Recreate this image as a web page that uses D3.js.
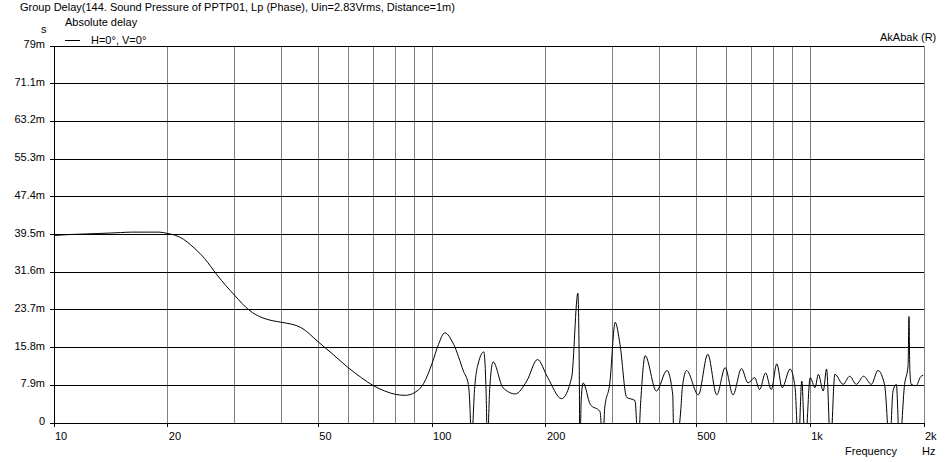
<!DOCTYPE html>
<html><head><meta charset="utf-8">
<script src="https://cdn.jsdelivr.net/npm/d3@7"></script>
<style>
body{margin:0;background:#fff}
text{font-family:"Liberation Sans",Arial,sans-serif;font-size:11px;fill:#000}
</style></head><body>
<svg id="c" width="949" height="462"></svg>
<script>
// group delay in ms
const freq = [10,11,12,13,14,15,16,17,18,19,20,21,22,23,25,27,30,33,35,38,40,45,50,55,60,65,70,75,80,85,90,95,100,104,108,114,121,124.7,126,127,129.5,133,137,139,140,142,145,154,166,178,190,202,220,234,243,245,246,248,251,262,278,283,286,295,305,314,327,344,351,356,366,392,418,433,436,437,440,455,459,471,506,536,566,596,625,658,685,713,735,762,789,816,843,885,912,931,950,970,1000,1030,1051,1083,1105,1132,1162,1222,1272,1324,1384,1451,1511,1574,1623,1656,1690,1723,1777,1815,1825,1835,1850,1905,1960,1990];
const delay = [39.3,39.5,39.6,39.7,39.8,39.9,40,40,40,40,39.7,39.3,38.5,37.3,34.5,31,26.8,23.5,22.3,21.4,21.1,20,17,14.2,11.6,9.5,7.8,6.7,6,5.8,6.4,8.3,12.5,16.5,18.9,16.5,10.9,8.1,3,-5,7,13,14.9,6,-5,7,12.8,7.4,6.1,8.8,13.3,9.6,5.1,9.6,27.2,12,-5,5,8.4,3.9,2.4,-5,3,8.2,21.1,16.5,5.4,4.7,-5,4,14.1,6.7,11,5.9,-5,-5,-5,3,7.4,11,5.9,14.4,5.9,11.6,5.9,11.4,8.4,9.5,7,10.5,7,12.4,7.4,11.3,7.4,-5,8.8,-5,9.5,7.4,10.2,6.7,11.3,-5,10.2,8.1,9.8,8.1,9.8,8.1,11,7.9,-5,6.7,8.1,-5,8.1,12,22.3,11,8.1,7.8,9.7,10];
const yTicks = [0,7.9,15.8,23.7,31.6,39.5,47.4,55.3,63.2,71.1,79];
const yLabels = ["0","7.9m","15.8m","23.7m","31.6m","39.5m","47.4m","55.3m","63.2m","71.1m","79m"];
const xMajor = [10,20,50,100,200,500,1000,2000];
const xLabels = ["10","20","50","100","200","500","1k","2k"];
const xGrid = [20,30,40,50,60,70,80,90,100,200,300,400,500,600,700,800,900,1000,2000];

const svg = d3.select("#c");
const L=54,R=924,T=46,B=423;
const x = d3.scaleLog().domain([10,2000]).range([L,R]);
const y = d3.scaleLinear().domain([0,79]).range([B,T]);

svg.append("g").selectAll("line").data(xGrid).join("line")
  .attr("x1",d=>x(d)).attr("x2",d=>x(d)).attr("y1",T).attr("y2",B)
  .attr("stroke","#808080").attr("shape-rendering","crispEdges");
svg.append("g").selectAll("line").data(yTicks).join("line")
  .attr("x1",L-4).attr("x2",R).attr("y1",d=>y(d)).attr("y2",d=>y(d))
  .attr("stroke","#000").attr("shape-rendering","crispEdges");
svg.append("line").attr("x1",L).attr("x2",L).attr("y1",T).attr("y2",B+4)
  .attr("stroke","#000").attr("shape-rendering","crispEdges");
svg.append("g").selectAll("line").data(xMajor).join("line")
  .attr("x1",d=>x(d)).attr("x2",d=>x(d)).attr("y1",B).attr("y2",B+4)
  .attr("stroke","#000").attr("shape-rendering","crispEdges");

svg.append("g").selectAll("text").data(yTicks).join("text")
  .attr("x",L-9).attr("y",d=>y(d)+2).attr("text-anchor","end").text((d,i)=>yLabels[i]);
svg.append("g").selectAll("text").data(xMajor).join("text")
  .attr("x",d=>x(d)+1).attr("y",B+17).text((d,i)=>xLabels[i]);

svg.append("defs").append("clipPath").attr("id","clip").append("rect")
  .attr("x",L).attr("y",T).attr("width",R-L).attr("height",B-T+1);
svg.append("path").datum(freq.map((f,i)=>[f,delay[i]]))
  .attr("clip-path","url(#clip)")
  .attr("fill","none").attr("stroke","#000").attr("stroke-width",1)
  .attr("d",d3.line().x(d=>x(d[0])).y(d=>y(d[1])).curve(d3.curveMonotoneX));

svg.append("text").attr("x",20).attr("y",11).text("Group Delay(144. Sound Pressure of PPTP01, Lp (Phase), Uin=2.83Vrms, Distance=1m)");
svg.append("text").attr("x",65).attr("y",26).text("Absolute delay");
svg.append("line").attr("x1",65).attr("x2",80).attr("y1",40.5).attr("y2",40.5).attr("stroke","#000");
svg.append("text").attr("x",91).attr("y",44).text("H=0°, V=0°");
svg.append("text").attr("x",41).attr("y",33).text("s");
svg.append("text").attr("x",880).attr("y",41).text("AkAbak (R)");
svg.append("text").attr("x",845).attr("y",455).text("Frequency");
svg.append("text").attr("x",922).attr("y",455).text("Hz");
</script></body></html>
